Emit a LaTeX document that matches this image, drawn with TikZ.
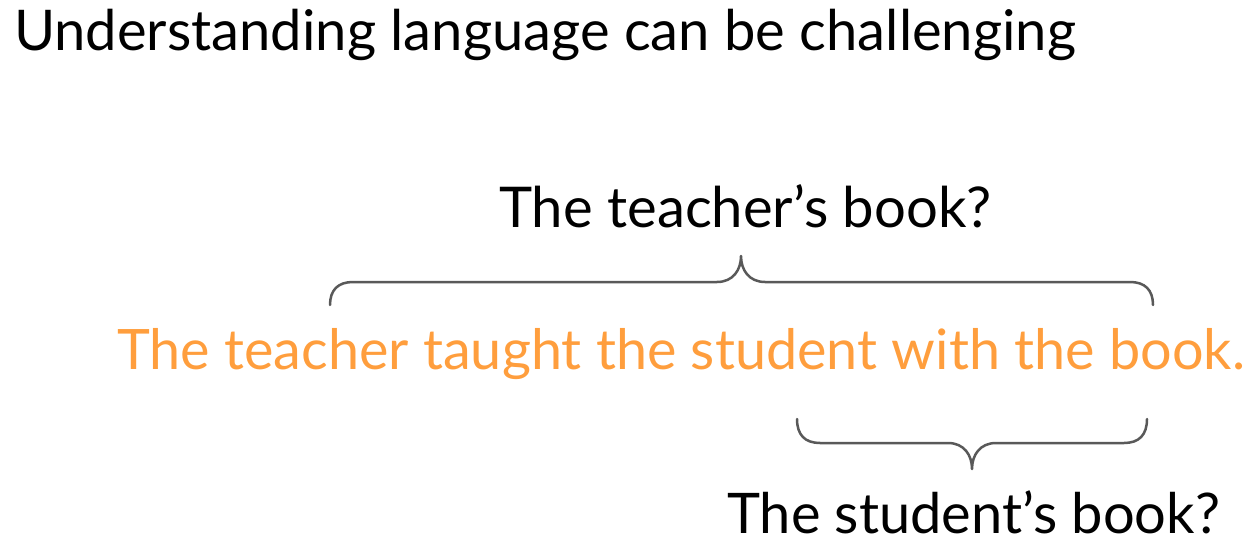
\documentclass[tikz,border=0pt]{standalone}
\usepackage{fontspec}
\setmainfont{Lato}
\definecolor{accent}{HTML}{FF9E3D}
\definecolor{bracegray}{HTML}{595959}
\begin{document}
\begin{tikzpicture}[x=1pt,y=-1pt,
  label/.style={anchor=base west,inner sep=0pt,font=\fontsize{56}{60}\selectfont},
  brace/.style={draw=bracegray,line width=2.5pt,line cap=round,line join=round}]
\useasboundingbox (0,0) rectangle (1258,556);
% heading
\node[label,font=\fontsize{56.1}{60}\selectfont] (title) at (14,51) {Understanding language can be challenging};
% the ambiguous sentence
\node[label,text=accent,font=\fontsize{55.75}{60}\selectfont] (sentence) at (117,369) {The teacher taught the student with the book.};
% the two readings
\node[label,font=\fontsize{56.2}{60}\selectfont] (teacher) at (499,227) {The teacher’s book?};
\node[label] (student) at (727,533) {The student’s book?};
% brace over the sentence
\coordinate (tl) at (330,305);
\coordinate (tt) at (741,256);
\coordinate (tr) at (1153,305);
\draw[brace] (tl) .. controls (330,290) and (338,282) .. (353,282) -- (717,282)
  .. controls (733,282) and (741,270) .. (tt)
  .. controls (741,270) and (749,282) .. (765,282) -- (1130,282)
  .. controls (1145,282) and (1153,290) .. (tr);
% brace under the sentence
\coordinate (bl) at (797,419);
\coordinate (bt) at (972,469);
\coordinate (br) at (1147,419);
\draw[brace] (bl) .. controls (797,435) and (805,443) .. (820,443) -- (948,443)
  .. controls (964,443) and (972,455) .. (bt)
  .. controls (972,455) and (980,443) .. (996,443) -- (1124,443)
  .. controls (1139,443) and (1147,435) .. (br);
\end{tikzpicture}
\end{document}
